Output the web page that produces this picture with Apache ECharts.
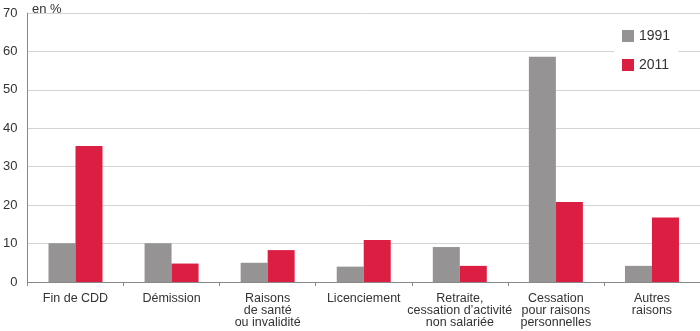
<!DOCTYPE html>
<html><head><meta charset="utf-8">
<script src="https://cdn.jsdelivr.net/npm/echarts@6/dist/echarts.min.js"></script>
<style>html,body{margin:0;padding:0;background:#fff}#c{width:700px;height:331px}</style>
</head><body><div id="c"></div>
<script>
const categories = ["Fin de CDD", "Démission", "Raisons\nde santé\nou invalidité", "Licenciement", "Retraite,\ncessation d’activité\nnon salariée", "Cessation\npour raisons\npersonnelles", "Autres\nraisons"];
const seriesNames = ["1991", "2011"];
const values1991 = [10.1, 10.1, 5.0, 4.0, 9.1, 58.6, 4.2];
const values2011 = [35.4, 4.8, 8.3, 10.9, 4.2, 20.8, 16.8];
const yTicks = {min: 0, max: 70, interval: 10};

const font = "'Liberation Sans Narrow', 'Liberation Sans', Arial, sans-serif";
const chart = echarts.init(document.getElementById('c'));
chart.setOption({
  animation: false,
  textStyle: {fontFamily: font},
  title: {text: 'en %', left: 27, top: -2, textStyle: {fontSize: 13, fontWeight: 'normal', color: '#333', fontFamily: font}},
  legend: {
    orient: 'vertical', left: 614, top: 23, itemWidth: 12, itemHeight: 12, itemGap: 15,
    backgroundColor: '#fff', padding: [6, 8, 6, 8],
    icon: 'rect',
    textStyle: {fontSize: 14, color: '#333', fontFamily: font},
    data: seriesNames
  },
  grid: {left: 26, right: 0, top: 13, bottom: 49, containLabel: false},
  xAxis: {
    type: 'category', data: categories,
    axisLine: {lineStyle: {color: '#888', width: 1}},
    axisTick: {show: true, alignWithLabel: false, length: 4, lineStyle: {color: '#888'}},
    axisLabel: {interval: 0, fontSize: 12.5, color: '#333', lineHeight: 12, margin: 11, fontFamily: font}
  },
  yAxis: {
    type: 'value', min: yTicks.min, max: yTicks.max, interval: yTicks.interval,
    axisLine: {show: true, lineStyle: {color: '#888', width: 1}},
    axisTick: {show: false},
    splitLine: {lineStyle: {color: '#d4d4d4', width: 1}},
    axisLabel: {fontSize: 13, color: '#333', margin: 10, fontFamily: font}
  },
  series: [
    {name: seriesNames[0], type: 'bar', data: values1991, barWidth: 27, barGap: '0%', itemStyle: {color: '#959393'}},
    {name: seriesNames[1], type: 'bar', data: values2011, barWidth: 27, barGap: '0%', itemStyle: {color: '#dc1e42'}}
  ]
});
</script></body></html>
